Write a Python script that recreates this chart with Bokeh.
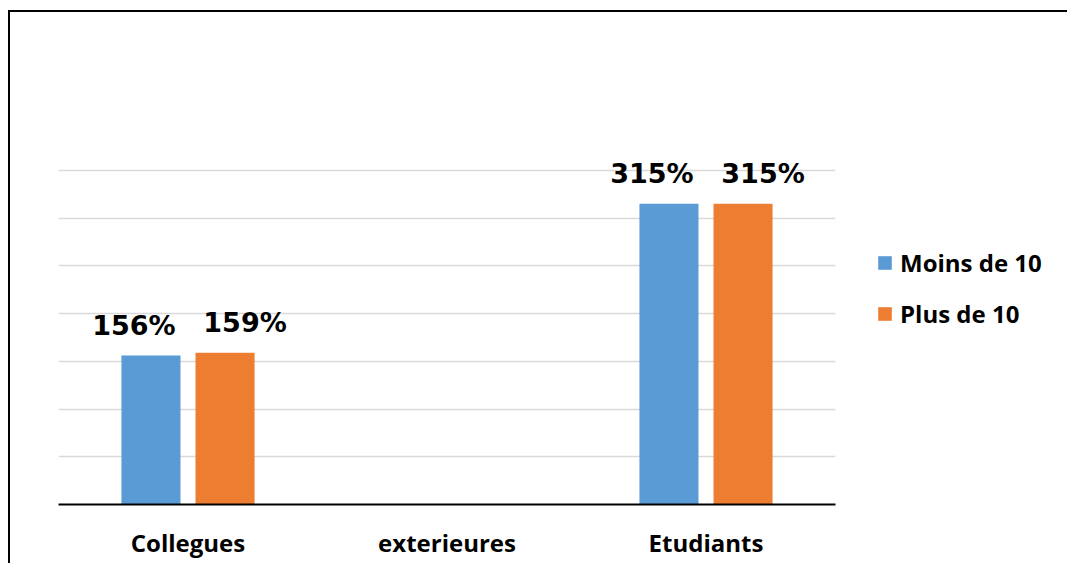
from bokeh.plotting import figure
from bokeh.models import ColumnDataSource, FactorRange, Range1d, FixedTicker, Legend, LegendItem
from bokeh.transform import dodge
from bokeh.core.properties import value
from bokeh.embed import file_html
from bokeh.resources import INLINE

categories = ["Collegues", "exterieures", "Etudiants"]
series_names = ["Moins de 10", "Plus de 10"]
moins_de_10 = [156, 0, 315]
plus_de_10 = [159, 0, 315]
colors = ["#5B9BD5", "#ED7D31"]
grid_ticks = [50, 100, 150, 200, 250, 300, 350]

p = figure(
    x_range=FactorRange(factors=categories, range_padding=0),
    y_range=Range1d(0, 486),
    frame_width=777, frame_height=464,
    output_backend="svg", toolbar_location=None,
    min_border_left=48, min_border_right=0, min_border_top=28, min_border_bottom=59,
)
p.styles = {"border-top": "2px solid black", "border-left": "2px solid black",
            "margin-left": "8px", "margin-top": "10px"}
p.outline_line_color = None
p.background_fill_color = "white"
p.border_fill_color = "white"

src = ColumnDataSource(dict(
    cat=categories,
    moins=moins_de_10,
    plus=plus_de_10,
    moins_lbl=[f"{v}%" if v else "" for v in moins_de_10],
    plus_lbl=[f"{v}%" if v else "" for v in plus_de_10],
))

r1 = p.vbar(x=dodge("cat", -0.143, range=p.x_range), top="moins", width=0.228,
            source=src, fill_color=colors[0], line_color=None)
r2 = p.vbar(x=dodge("cat", 0.143, range=p.x_range), top="plus", width=0.228,
            source=src, fill_color=colors[1], line_color=None)

lbl_kw = dict(text_align="center", text_baseline="alphabetic", y_offset=-30,
              text_font=value("DejaVu Sans"), text_font_style="bold",
              text_font_size="27px", text_color="black", source=src)
p.text(x=dodge("cat", -0.143, range=p.x_range), y="moins", text="moins_lbl", x_offset=-17, **lbl_kw)
p.text(x=dodge("cat", 0.143, range=p.x_range), y="plus", text="plus_lbl", x_offset=20, **lbl_kw)

p.xgrid.visible = False
p.ygrid.ticker = FixedTicker(ticks=grid_ticks)
p.ygrid.grid_line_color = "#d9d9d9"
p.ygrid.grid_line_width = 1.5
p.yaxis.visible = False

xa = p.xaxis[0]
xa.axis_line_color = "black"
xa.axis_line_width = 2
xa.major_tick_line_color = None
xa.minor_tick_line_color = None
xa.major_label_standoff = 15
xa.major_label_text_font = "Open Sans"
xa.major_label_text_font_style = "bold"
xa.major_label_text_font_size = "24px"
xa.major_label_text_color = "black"

legend = Legend(items=[LegendItem(label=series_names[0], renderers=[r1]),
                       LegendItem(label=series_names[1], renderers=[r2])],
                location=(41, 174), orientation="vertical")
legend.glyph_width = 17
legend.glyph_height = 17
legend.label_text_font = "Open Sans"
legend.label_text_font_style = "bold"
legend.label_text_font_size = "24px"
legend.label_text_color = "black"
legend.label_standoff = 7
legend.spacing = 18
legend.padding = 0
legend.margin = 0
legend.border_line_color = None
legend.background_fill_alpha = 0
p.add_layout(legend, "right")

open("out.html", "w").write(file_html(p, INLINE))
